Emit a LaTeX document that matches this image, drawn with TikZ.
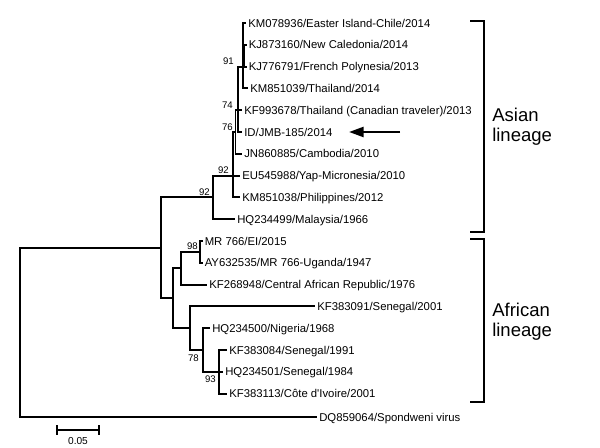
\documentclass[tikz,border=0pt]{standalone}
\usepackage{fontspec}
\setmainfont{Liberation Sans}
\usetikzlibrary{arrows.meta}
\begin{document}
\begin{tikzpicture}[x=0.75pt,y=-0.75pt,
  br/.style={line width=1.4pt, line cap=butt, line join=miter},
  leaf/.style={anchor=west, inner xsep=1.5pt, inner ysep=0pt, text height=6.2pt, text depth=0pt, font=\fontsize{8.5}{10}\selectfont},
  bs/.style={anchor=east, inner sep=0pt, font=\fontsize{7.2}{8}\selectfont},
  bracketln/.style={line width=1.9pt, line join=miter},
  lineage/.style={anchor=west, align=left, inner sep=0pt, font=\fontsize{13.9}{15.2}\selectfont},
  pointer/.style={line width=1.8pt, -{Triangle[length=11pt,width=7.5pt]}}
]
\useasboundingbox[fill=white] (0,0) rectangle (600,448);

% internal nodes
\coordinate (root) at (20,332);
\coordinate (ing) at (161,247.8);
\coordinate (A0) at (213,197.4);
\coordinate (A1) at (233,175.6);
\coordinate (N76) at (235.5,132);
\coordinate (N74) at (238,110.2);
\coordinate (N91) at (243,66.6);
\coordinate (N91b) at (244.5,55.7);
\coordinate (Af) at (173,298.25);
\coordinate (Af1) at (181,268.3);
\coordinate (MR) at (200,252);
\coordinate (Af2) at (190,328.2);
\coordinate (Af3) at (203,350);
\coordinate (Af4) at (219,371.8);

% leaves
\node[leaf] (l1) at (246,23) {KM078936/Easter Island-Chile/2014};
\node[leaf] (l2) at (246.5,44.8) {KJ873160/New Caledonia/2014};
\node[leaf] (l3) at (246.5,66.6) {KJ776791/French Polynesia/2013};
\node[leaf] (l4) at (248,88.4) {KM851039/Thailand/2014};
\node[leaf] (l5) at (242,110.2) {KF993678/Thailand (Canadian traveler)/2013};
\node[leaf] (l6) at (242,132) {ID/JMB-185/2014};
\node[leaf] (l7) at (242,153.8) {JN860885/Cambodia/2010};
\node[leaf] (l8) at (240,175.6) {EU545988/Yap-Micronesia/2010};
\node[leaf] (l9) at (240,197.4) {KM851038/Philippines/2012};
\node[leaf] (l10) at (235,219.2) {HQ234499/Malaysia/1966};
\node[leaf] (l11) at (202.5,241) {MR 766/EI/2015};
\node[leaf] (l12) at (202.5,262.8) {AY632535/MR 766-Uganda/1947};
\node[leaf] (l13) at (207,284.6) {KF268948/Central African Republic/1976};
\node[leaf] (l14) at (315,306.4) {KF383091/Senegal/2001};
\node[leaf] (l15) at (210,328.2) {HQ234500/Nigeria/1968};
\node[leaf] (l16) at (227,350) {KF383084/Senegal/1991};
\node[leaf] (l17) at (223,371.8) {HQ234501/Senegal/1984};
\node[leaf] (l18) at (227,393.6) {KF383113/Côte d\textquotesingle Ivoire/2001};
\node[leaf] (l19) at (317,417) {DQ859064/Spondweni virus};

% branches
\draw[br] (root) |- (ing);
\draw[br] (root) |- (l19.west);
\draw[br] (ing) |- (A0);
\draw[br] (ing) |- (Af);
\draw[br] (A0) |- (A1);
\draw[br] (A0) |- (l10.west);
\draw[br] (A1) |- (N76);
\draw[br] (A1) |- (l8.west);
\draw[br] (A1) |- (l9.west);
\draw[br] (N76) |- (N74);
\draw[br] (N76) |- (l7.west);
\draw[br] (N74) |- (N91);
\draw[br] (N74) |- (l5.west);
\draw[br] (N74) |- (l6.west);
\draw[br] (N91) |- (l1.west);
\draw[br] (N91) |- (l4.west);
\draw[br] (N91) |- (N91b);
\draw[br] (N91b) |- (l2.west);
\draw[br] (N91b) |- (l3.west);
\draw[br] (Af) |- (Af1);
\draw[br] (Af) |- (Af2);
\draw[br] (Af1) |- (MR);
\draw[br] (Af1) |- (l13.west);
\draw[br] (MR) |- (l11.west);
\draw[br] (MR) |- (l12.west);
\draw[br] (Af2) |- (l14.west);
\draw[br] (Af2) |- (Af3);
\draw[br] (Af3) |- (l15.west);
\draw[br] (Af3) |- (Af4);
\draw[br] (Af4) |- (l16.west);
\draw[br] (Af4) |- (l17.west);
\draw[br] (Af4) |- (l18.west);

% bootstrap values
\node[bs] (b91) at (234,61) {91};
\node[bs] (b74) at (233,105) {74};
\node[bs] (b76) at (233,127) {76};
\node[bs] (b92a) at (229,170) {92};
\node[bs] (b92b) at (210,192) {92};
\node[bs] (b98) at (198,246) {98};
\node[bs] (b78) at (199,358) {78};
\node[bs] (b93) at (216,379) {93};

% arrow
\coordinate (arT) at (400,132);
\coordinate (arH) at (349,132);
\draw[pointer] (arT) -- (arH);

% brackets
\coordinate (as1) at (470,21);
\coordinate (as2) at (484,21);
\coordinate (as3) at (484,232);
\coordinate (as4) at (470,232);
\draw[bracketln] (as1) -- (as2) -- (as3) -- (as4);
\coordinate (af1) at (470,239);
\coordinate (af2) at (484,239);
\coordinate (af3) at (484,402);
\coordinate (af4) at (470,402);
\draw[bracketln] (af1) -- (af2) -- (af3) -- (af4);
\node[lineage] (asian) at (492,127) {Asian\\lineage};
\node[lineage] (african) at (492,322) {African\\lineage};

% scale bar
\coordinate (sb1) at (56,430);
\coordinate (sb2) at (100,430);
\draw[line width=1.5pt, {Bar[width=7pt]}-{Bar[width=7pt]}] (sb1) -- (sb2);
\node[inner sep=0pt, font=\fontsize{7.6}{9}\selectfont] (sbl) at (78,441) {0.05};
\end{tikzpicture}
\end{document}
